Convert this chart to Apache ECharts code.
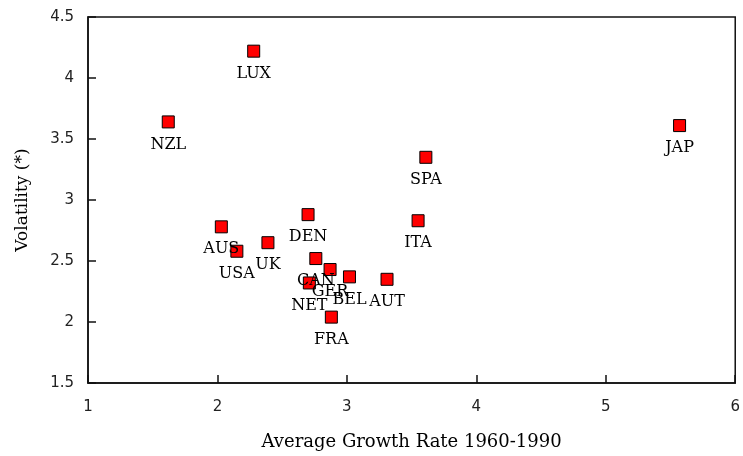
<!DOCTYPE html>
<html>
<head>
<meta charset="utf-8">
<script src="https://cdn.jsdelivr.net/npm/echarts@6/dist/echarts.min.js"></script>
<style>
  html, body { margin: 0; padding: 0; background: #fff; }
  #chart { width: 743px; height: 456px; }
</style>
</head>
<body>
<div id="chart"></div>
<script>
// countries and their (growth, volatility) readings
const countries = ['LUX', 'NZL', 'JAP', 'SPA', 'ITA', 'DEN', 'AUS', 'USA', 'UK', 'CAN', 'GER', 'BEL', 'NET', 'AUT', 'FRA']
const growth = [2.28, 1.62, 5.57, 3.61, 3.55, 2.70, 2.03, 2.15, 2.39, 2.76, 2.87, 3.02, 2.71, 3.31, 2.88]
const volatility = [4.22, 3.64, 3.61, 3.35, 2.83, 2.88, 2.78, 2.58, 2.65, 2.52, 2.43, 2.37, 2.32, 2.35, 2.04]

const points = countries.map((name, i) => ({
  name,
  value: [growth[i], volatility[i]]
}))

const serif = '"DejaVu Serif", "Liberation Serif", serif'
const sans = '"DejaVu Sans", "Liberation Sans", sans-serif'

const chart = echarts.init(document.getElementById('chart'))
chart.setOption({
  animation: false,
  grid: {
    left: 88,
    top: 17,
    right: 6,
    bottom: 72,
    show: true,
    borderColor: '#111',
    borderWidth: 1.5
  },
  xAxis: {
    type: 'value',
    min: 1,
    max: 6,
    interval: 1,
    name: 'Average Growth Rate 1960-1990',
    nameLocation: 'middle',
    nameGap: 50,
    nameTextStyle: { fontFamily: serif, fontSize: 18, color: '#000' },
    axisLine: { lineStyle: { color: '#111', width: 1.5 } },
    axisTick: { inside: true, length: 8, lineStyle: { color: '#111', width: 1.5 } },
    axisLabel: { fontFamily: sans, fontSize: 15, color: '#222', margin: 17 },
    splitLine: { show: false }
  },
  yAxis: {
    type: 'value',
    min: 1.5,
    max: 4.5,
    interval: 0.5,
    name: 'Volatility (*)',
    nameLocation: 'middle',
    nameGap: 57,
    nameTextStyle: { fontFamily: serif, fontSize: 17, color: '#000' },
    axisLine: { lineStyle: { color: '#111', width: 1.5 } },
    axisTick: { inside: true, length: 8, lineStyle: { color: '#111', width: 1.5 } },
    axisLabel: { fontFamily: sans, fontSize: 15, color: '#222', margin: 14 },
    splitLine: { show: false }
  },
  series: [{
    type: 'scatter',
    symbol: 'rect',
    symbolSize: 12,
    itemStyle: { color: '#ff0000', borderColor: '#000', borderWidth: 1, opacity: 1 },
    label: {
      show: true,
      position: 'bottom',
      distance: 8,
      formatter: p => p.name,
      fontFamily: serif,
      fontSize: 16,
      color: '#000'
    },
    data: points
  }]
})
</script>
</body>
</html>
